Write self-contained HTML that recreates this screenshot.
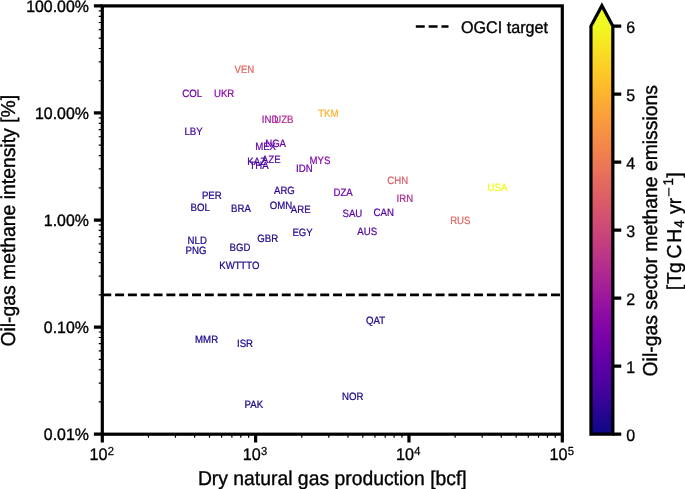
<!DOCTYPE html><html><head><meta charset="utf-8"><style>
html,body{margin:0;padding:0;background:#fff;}body{width:685px;height:489px;overflow:hidden;}
svg{display:block;text-rendering:geometricPrecision;font-family:"Liberation Sans",sans-serif;will-change:transform;}
</style></head><body>
<svg width="685" height="489" viewBox="0 0 685 489">
<defs><linearGradient id="pl" gradientUnits="userSpaceOnUse" x1="0" y1="434.2" x2="0" y2="26.1">
<stop offset="0.00" stop-color="#0d0887"/>
<stop offset="0.05" stop-color="#270591"/>
<stop offset="0.10" stop-color="#41049d"/>
<stop offset="0.15" stop-color="#5601a4"/>
<stop offset="0.20" stop-color="#6a00a8"/>
<stop offset="0.25" stop-color="#7e03a8"/>
<stop offset="0.30" stop-color="#8f0da4"/>
<stop offset="0.35" stop-color="#a11b9b"/>
<stop offset="0.40" stop-color="#b12a90"/>
<stop offset="0.45" stop-color="#bf3984"/>
<stop offset="0.50" stop-color="#cc4778"/>
<stop offset="0.55" stop-color="#d7566c"/>
<stop offset="0.60" stop-color="#e16462"/>
<stop offset="0.65" stop-color="#ea7457"/>
<stop offset="0.70" stop-color="#f2844b"/>
<stop offset="0.75" stop-color="#f89540"/>
<stop offset="0.80" stop-color="#fca636"/>
<stop offset="0.85" stop-color="#feba2c"/>
<stop offset="0.90" stop-color="#fcce25"/>
<stop offset="0.95" stop-color="#f6e422"/>
<stop offset="1.00" stop-color="#f0f921"/>
</linearGradient></defs>
<path d="M148.46 434.20v3.60M175.46 434.20v3.60M194.62 434.20v3.60M209.48 434.20v3.60M221.62 434.20v3.60M231.88 434.20v3.60M240.77 434.20v3.60M248.62 434.20v3.60M301.79 434.20v3.60M328.79 434.20v3.60M347.95 434.20v3.60M362.81 434.20v3.60M374.95 434.20v3.60M385.22 434.20v3.60M394.11 434.20v3.60M401.95 434.20v3.60M455.12 434.20v3.60M482.13 434.20v3.60M501.28 434.20v3.60M516.14 434.20v3.60M528.28 434.20v3.60M538.55 434.20v3.60M547.44 434.20v3.60M555.28 434.20v3.60M102.30 401.97h-3.60M102.30 383.11h-3.60M102.30 369.73h-3.60M102.30 359.36h-3.60M102.30 350.88h-3.60M102.30 343.71h-3.60M102.30 337.50h-3.60M102.30 332.02h-3.60M102.30 294.89h-3.60M102.30 276.04h-3.60M102.30 262.66h-3.60M102.30 252.28h-3.60M102.30 243.80h-3.60M102.30 236.64h-3.60M102.30 230.43h-3.60M102.30 224.95h-3.60M102.30 187.82h-3.60M102.30 168.96h-3.60M102.30 155.58h-3.60M102.30 145.21h-3.60M102.30 136.73h-3.60M102.30 129.56h-3.60M102.30 123.35h-3.60M102.30 117.87h-3.60M102.30 80.74h-3.60M102.30 61.89h-3.60M102.30 48.51h-3.60M102.30 38.13h-3.60M102.30 29.65h-3.60M102.30 22.49h-3.60M102.30 16.28h-3.60M102.30 10.80h-3.60" stroke="#000" stroke-width="1.20" fill="none"/>
<path d="M102.30 434.20v8.40M255.63 434.20v8.40M408.97 434.20v8.40M562.30 434.20v8.40M102.30 434.20h-8.40M102.30 327.12h-8.40M102.30 220.05h-8.40M102.30 112.97h-8.40M102.30 5.90h-8.40" stroke="#000" stroke-width="3.20" fill="none"/>
<path d="M102.30 294.89H562.30" stroke="#000" stroke-width="2.62" stroke-dasharray="8.95 3.87" fill="none"/>
<rect x="102.30" y="5.90" width="460.00" height="428.30" fill="none" stroke="#000" stroke-width="3.20"/>
<text transform="translate(88.90 440.00) scale(1 1.040)" font-size="15.90" text-anchor="end" fill="#000" stroke="#000" stroke-width="0.35">0.01%</text>
<text transform="translate(88.90 332.93) scale(1 1.040)" font-size="15.90" text-anchor="end" fill="#000" stroke="#000" stroke-width="0.35">0.10%</text>
<text transform="translate(88.90 225.85) scale(1 1.040)" font-size="15.90" text-anchor="end" fill="#000" stroke="#000" stroke-width="0.35">1.00%</text>
<text transform="translate(88.90 118.77) scale(1 1.040)" font-size="15.90" text-anchor="end" fill="#000" stroke="#000" stroke-width="0.35">10.00%</text>
<text transform="translate(88.90 11.70) scale(1 1.040)" font-size="15.90" text-anchor="end" fill="#000" stroke="#000" stroke-width="0.35">100.00%</text>
<text transform="translate(89.40 460.20) scale(1 1.040)" font-size="16.20" text-anchor="start" fill="#000" stroke="#000" stroke-width="0.30">10</text>
<text transform="translate(107.70 454.50) scale(1 1.040)" font-size="11.18" text-anchor="start" fill="#000" stroke="#000" stroke-width="0.25">2</text>
<text transform="translate(242.73 460.20) scale(1 1.040)" font-size="16.20" text-anchor="start" fill="#000" stroke="#000" stroke-width="0.30">10</text>
<text transform="translate(261.03 454.50) scale(1 1.040)" font-size="11.18" text-anchor="start" fill="#000" stroke="#000" stroke-width="0.25">3</text>
<text transform="translate(396.07 460.20) scale(1 1.040)" font-size="16.20" text-anchor="start" fill="#000" stroke="#000" stroke-width="0.30">10</text>
<text transform="translate(414.37 454.50) scale(1 1.040)" font-size="11.18" text-anchor="start" fill="#000" stroke="#000" stroke-width="0.25">4</text>
<text transform="translate(549.40 460.20) scale(1 1.040)" font-size="16.20" text-anchor="start" fill="#000" stroke="#000" stroke-width="0.30">10</text>
<text transform="translate(567.70 454.50) scale(1 1.040)" font-size="11.18" text-anchor="start" fill="#000" stroke="#000" stroke-width="0.25">5</text>
<text transform="translate(332.30 484.70) scale(1 1.040)" font-size="19.35" text-anchor="middle" fill="#000" stroke="#000" stroke-width="0.35">Dry natural gas production [bcf]</text>
<text transform="translate(14.80 220.75) rotate(-90) scale(1 1.040)" font-size="19.35" text-anchor="middle" fill="#000" stroke="#000" stroke-width="0.35">Oil-gas methane intensity [%]</text>
<path d="M415.8 26.5H448.5" stroke="#000" stroke-width="2.62" stroke-dasharray="8.95 3.87" fill="none"/>
<text transform="translate(461.00 32.50) scale(1 1.040)" font-size="16.15" text-anchor="start" fill="#000" stroke="#000" stroke-width="0.35">OGCI target</text>
<text transform="translate(244.40 72.80) scale(1 1.100)" font-size="9.65" text-anchor="middle" fill="#e36760" stroke="#e36760" stroke-width="0.22">VEN</text>
<text transform="translate(192.10 96.90) scale(1 1.100)" font-size="9.65" text-anchor="middle" fill="#7201a8" stroke="#7201a8" stroke-width="0.22">COL</text>
<text transform="translate(224.10 96.70) scale(1 1.100)" font-size="9.65" text-anchor="middle" fill="#8809a6" stroke="#8809a6" stroke-width="0.22">UKR</text>
<text transform="translate(328.40 116.80) scale(1 1.100)" font-size="9.65" text-anchor="middle" fill="#fdb230" stroke="#fdb230" stroke-width="0.22">TKM</text>
<text transform="translate(270.10 122.80) scale(1 1.100)" font-size="9.65" text-anchor="middle" fill="#9d189d" stroke="#9d189d" stroke-width="0.22">IND</text>
<text transform="translate(283.80 122.80) scale(1 1.100)" font-size="9.65" text-anchor="middle" fill="#b42d8e" stroke="#b42d8e" stroke-width="0.22">UZB</text>
<text transform="translate(193.60 134.90) scale(1 1.100)" font-size="9.65" text-anchor="middle" fill="#41049d" stroke="#41049d" stroke-width="0.22">LBY</text>
<text transform="translate(275.60 146.80) scale(1 1.100)" font-size="9.65" text-anchor="middle" fill="#6a00a8" stroke="#6a00a8" stroke-width="0.22">NGA</text>
<text transform="translate(265.60 150.00) scale(1 1.100)" font-size="9.65" text-anchor="middle" fill="#5e01a6" stroke="#5e01a6" stroke-width="0.22">MEX</text>
<text transform="translate(271.20 163.40) scale(1 1.100)" font-size="9.65" text-anchor="middle" fill="#5601a4" stroke="#5601a4" stroke-width="0.22">AZE</text>
<text transform="translate(256.70 164.80) scale(1 1.100)" font-size="9.65" text-anchor="middle" fill="#41049d" stroke="#41049d" stroke-width="0.22">KAZ</text>
<text transform="translate(259.10 168.50) scale(1 1.100)" font-size="9.65" text-anchor="middle" fill="#4e02a1" stroke="#4e02a1" stroke-width="0.22">THA</text>
<text transform="translate(320.00 163.60) scale(1 1.100)" font-size="9.65" text-anchor="middle" fill="#8809a6" stroke="#8809a6" stroke-width="0.22">MYS</text>
<text transform="translate(304.30 172.30) scale(1 1.100)" font-size="9.65" text-anchor="middle" fill="#6a00a8" stroke="#6a00a8" stroke-width="0.22">IDN</text>
<text transform="translate(211.80 198.70) scale(1 1.100)" font-size="9.65" text-anchor="middle" fill="#1d068d" stroke="#1d068d" stroke-width="0.22">PER</text>
<text transform="translate(200.20 211.10) scale(1 1.100)" font-size="9.65" text-anchor="middle" fill="#1d068d" stroke="#1d068d" stroke-width="0.22">BOL</text>
<text transform="translate(240.90 212.40) scale(1 1.100)" font-size="9.65" text-anchor="middle" fill="#22068f" stroke="#22068f" stroke-width="0.22">BRA</text>
<text transform="translate(284.40 194.40) scale(1 1.100)" font-size="9.65" text-anchor="middle" fill="#2c0593" stroke="#2c0593" stroke-width="0.22">ARG</text>
<text transform="translate(281.10 209.00) scale(1 1.100)" font-size="9.65" text-anchor="middle" fill="#22068f" stroke="#22068f" stroke-width="0.22">OMN</text>
<text transform="translate(300.70 212.90) scale(1 1.100)" font-size="9.65" text-anchor="middle" fill="#2c0593" stroke="#2c0593" stroke-width="0.22">ARE</text>
<text transform="translate(302.60 236.00) scale(1 1.100)" font-size="9.65" text-anchor="middle" fill="#270591" stroke="#270591" stroke-width="0.22">EGY</text>
<text transform="translate(267.70 241.80) scale(1 1.100)" font-size="9.65" text-anchor="middle" fill="#1d068d" stroke="#1d068d" stroke-width="0.22">GBR</text>
<text transform="translate(197.20 244.40) scale(1 1.100)" font-size="9.65" text-anchor="middle" fill="#17078b" stroke="#17078b" stroke-width="0.22">NLD</text>
<text transform="translate(196.00 253.60) scale(1 1.100)" font-size="9.65" text-anchor="middle" fill="#17078b" stroke="#17078b" stroke-width="0.22">PNG</text>
<text transform="translate(239.90 251.00) scale(1 1.100)" font-size="9.65" text-anchor="middle" fill="#1d068d" stroke="#1d068d" stroke-width="0.22">BGD</text>
<text transform="translate(229.90 268.60) scale(1 1.100)" font-size="9.65" text-anchor="middle" fill="#1d068d" stroke="#1d068d" stroke-width="0.22">KWT</text>
<text transform="translate(249.90 268.60) scale(1 1.100)" font-size="9.65" text-anchor="middle" fill="#1d068d" stroke="#1d068d" stroke-width="0.22">TTO</text>
<text transform="translate(397.70 184.00) scale(1 1.100)" font-size="9.65" text-anchor="middle" fill="#dd5e66" stroke="#dd5e66" stroke-width="0.22">CHN</text>
<text transform="translate(343.10 195.90) scale(1 1.100)" font-size="9.65" text-anchor="middle" fill="#7602a8" stroke="#7602a8" stroke-width="0.22">DZA</text>
<text transform="translate(404.80 202.40) scale(1 1.100)" font-size="9.65" text-anchor="middle" fill="#b12a90" stroke="#b12a90" stroke-width="0.22">IRN</text>
<text transform="translate(352.40 216.80) scale(1 1.100)" font-size="9.65" text-anchor="middle" fill="#5a01a5" stroke="#5a01a5" stroke-width="0.22">SAU</text>
<text transform="translate(383.70 215.50) scale(1 1.100)" font-size="9.65" text-anchor="middle" fill="#5a01a5" stroke="#5a01a5" stroke-width="0.22">CAN</text>
<text transform="translate(367.20 234.90) scale(1 1.100)" font-size="9.65" text-anchor="middle" fill="#4e02a1" stroke="#4e02a1" stroke-width="0.22">AUS</text>
<text transform="translate(460.30 223.90) scale(1 1.100)" font-size="9.65" text-anchor="middle" fill="#e36760" stroke="#e36760" stroke-width="0.22">RUS</text>
<text transform="translate(497.40 190.50) scale(1 1.100)" font-size="9.65" text-anchor="middle" fill="#f0f921" stroke="#f0f921" stroke-width="0.22">USA</text>
<text transform="translate(206.60 343.20) scale(1 1.100)" font-size="9.65" text-anchor="middle" fill="#15078a" stroke="#15078a" stroke-width="0.22">MMR</text>
<text transform="translate(245.00 346.50) scale(1 1.100)" font-size="9.65" text-anchor="middle" fill="#15078a" stroke="#15078a" stroke-width="0.22">ISR</text>
<text transform="translate(375.50 323.70) scale(1 1.100)" font-size="9.65" text-anchor="middle" fill="#1d068d" stroke="#1d068d" stroke-width="0.22">QAT</text>
<text transform="translate(352.80 399.90) scale(1 1.100)" font-size="9.65" text-anchor="middle" fill="#15078a" stroke="#15078a" stroke-width="0.22">NOR</text>
<text transform="translate(253.80 407.70) scale(1 1.100)" font-size="9.65" text-anchor="middle" fill="#15078a" stroke="#15078a" stroke-width="0.22">PAK</text>
<path d="M590.95 434.20L590.95 26.10L601.90 5.70L612.85 26.10L612.85 434.20Z" fill="url(#pl)" stroke="none"/>
<text transform="translate(626.20 440.80) scale(1 1.040)" font-size="16.00" text-anchor="start" fill="#000" stroke="#000" stroke-width="0.30">0</text>
<text transform="translate(626.20 372.78) scale(1 1.040)" font-size="16.00" text-anchor="start" fill="#000" stroke="#000" stroke-width="0.30">1</text>
<text transform="translate(626.20 304.77) scale(1 1.040)" font-size="16.00" text-anchor="start" fill="#000" stroke="#000" stroke-width="0.30">2</text>
<text transform="translate(626.20 236.75) scale(1 1.040)" font-size="16.00" text-anchor="start" fill="#000" stroke="#000" stroke-width="0.30">3</text>
<text transform="translate(626.20 168.73) scale(1 1.040)" font-size="16.00" text-anchor="start" fill="#000" stroke="#000" stroke-width="0.30">4</text>
<text transform="translate(626.20 100.72) scale(1 1.040)" font-size="16.00" text-anchor="start" fill="#000" stroke="#000" stroke-width="0.30">5</text>
<text transform="translate(626.20 32.70) scale(1 1.040)" font-size="16.00" text-anchor="start" fill="#000" stroke="#000" stroke-width="0.30">6</text>
<path d="M612.85 434.20h8.40M612.85 366.18h8.40M612.85 298.17h8.40M612.85 230.15h8.40M612.85 162.13h8.40M612.85 94.12h8.40M612.85 26.10h8.40" stroke="#000" stroke-width="3.20" fill="none"/>
<path d="M590.95 434.20L590.95 26.10L601.90 5.70L612.85 26.10L612.85 434.20Z" fill="none" stroke="#000" stroke-width="3.20" stroke-linejoin="miter" stroke-miterlimit="10"/>
<text transform="translate(656.70 230.75) rotate(-90) scale(1 1.040)" font-size="19.35" text-anchor="middle" fill="#000" stroke="#000" stroke-width="0.35">Oil-gas sector methane emissions</text>
<text transform="translate(680.60 287.50) rotate(-90) scale(1 1.040)" font-size="19.35" text-anchor="middle" fill="#000" stroke="#000" stroke-width="0.35">[</text>
<text transform="translate(680.60 278.15) rotate(-90) scale(1 1.040)" font-size="19.35" text-anchor="middle" fill="#000" stroke="#000" stroke-width="0.35">T</text>
<text transform="translate(680.60 267.65) rotate(-90) scale(1 1.040)" font-size="19.35" text-anchor="middle" fill="#000" stroke="#000" stroke-width="0.35">g</text>
<text transform="translate(680.60 251.45) rotate(-90) scale(1 1.040)" font-size="19.35" text-anchor="middle" fill="#000" stroke="#000" stroke-width="0.35">C</text>
<text transform="translate(680.60 235.75) rotate(-90) scale(1 1.040)" font-size="19.35" text-anchor="middle" fill="#000" stroke="#000" stroke-width="0.35">H</text>
<text transform="translate(684.20 223.95) rotate(-90) scale(1 1.040)" font-size="13.54" text-anchor="middle" fill="#000" stroke="#000" stroke-width="0.35">4</text>
<text transform="translate(680.60 209.10) rotate(-90) scale(1 1.040)" font-size="19.35" text-anchor="middle" fill="#000" stroke="#000" stroke-width="0.35">y</text>
<text transform="translate(680.60 201.10) rotate(-90) scale(1 1.040)" font-size="19.35" text-anchor="middle" fill="#000" stroke="#000" stroke-width="0.35">r</text>
<text transform="translate(673.40 181.80) rotate(-90) scale(1 1.040)" font-size="13.54" text-anchor="middle" fill="#000" stroke="#000" stroke-width="0.35">1</text>
<text transform="translate(680.60 175.10) rotate(-90) scale(1 1.040)" font-size="19.35" text-anchor="middle" fill="#000" stroke="#000" stroke-width="0.35">]</text>
<rect x="668.30" y="187.70" width="1.15" height="8.6" fill="#000"/>
</svg></body></html>
